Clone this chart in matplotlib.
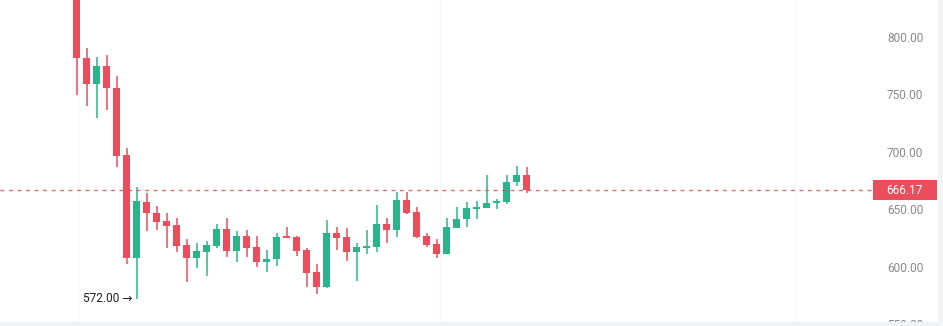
import matplotlib
matplotlib.use("Agg")
import matplotlib.pyplot as plt
from matplotlib.patches import Rectangle
from matplotlib.lines import Line2D
import numpy as np

opens = [845.0, 781.0, 758.4, 774.3, 755.5, 697.0, 607.7, 656.3, 646.8, 639.6,
         636.1, 618.7, 607.1, 612.9, 618.1, 632.6, 613.7, 626.5, 617.0, 603.6,
         606.3, 626.5, 625.9, 614.3, 595.2, 582.4, 629.4, 625.4, 612.9, 616.4,
         617.2, 637.0, 631.7, 657.8, 647.4, 626.5, 619.6, 610.6, 633.8, 641.0,
         650.3, 651.1, 655.0, 656.3, 673.2, 679.6]
highs = [855.0, 789.7, 781.9, 783.9, 765.7, 702.8, 668.9, 663.7, 652.9, 646.3,
         641.9, 623.6, 620.2, 622.4, 637.0, 642.2, 630.9, 631.7, 626.5, 614.3,
         629.4, 634.6, 626.5, 615.8, 602.2, 640.4, 634.1, 633.8, 620.7, 631.7,
         653.5, 642.4, 665.0, 665.0, 651.5, 629.4, 623.6, 642.4, 652.0, 656.3,
         657.2, 679.6, 658.4, 679.6, 687.7, 686.3]
lows = [749.1, 739.6, 728.9, 736.1, 686.8, 601.9, 572.0, 630.9, 631.7, 615.8,
        612.9, 586.8, 599.0, 591.7, 615.8, 608.0, 603.6, 608.5, 599.8, 595.0,
        600.7, 624.5, 609.4, 582.4, 576.1, 581.0, 614.3, 604.8, 587.7, 610.9,
        612.9, 620.2, 625.4, 645.7, 624.5, 617.2, 607.1, 610.6, 633.8, 634.1,
        641.3, 650.6, 649.7, 654.3, 670.0, 664.2]
closes = [781.0, 758.4, 774.3, 755.0, 696.3, 607.7, 657.0, 646.3, 639.0, 635.5,
          618.1, 607.1, 613.5, 618.7, 632.6, 613.7, 626.5, 616.4, 603.6, 606.5,
          625.4, 624.8, 613.7, 594.6, 582.4, 629.4, 625.0, 612.9, 617.0, 617.8,
          637.0, 631.7, 657.8, 646.8, 625.9, 618.7, 610.6, 634.1, 641.3, 650.6,
          651.5, 655.0, 657.0, 673.2, 679.6, 666.17]
y_ticks = [550, 600, 650, 700, 750, 800]
last_price = 666.17
min_low_label = "572.00"

W, H = 943, 326
UP = "#2bb48c"
DOWN = "#ea4d5b"

fig = plt.figure(figsize=(W / 100, H / 100), dpi=100)
fig.patch.set_facecolor("white")
plot_right = 860
ax = fig.add_axes([0, 0, plot_right / W, 1])
ax.set_facecolor("white")

ppu = 1.15
ytop = 800 + 36.5 / ppu
ybot = 800 - (H - 36.5) / ppu
ax.set_ylim(ybot, ytop)
x0 = 76.7
step = 10.0
ax.set_xlim(-x0 / step, (plot_right - x0) / step)

n = len(opens)
xs = np.arange(n)
o = np.array(opens); c = np.array(closes); h = np.array(highs); l = np.array(lows)
up = c >= o
colors = np.where(up, UP, DOWN)

for gx in [78, 440, 795]:
    ax.axvline((gx - x0) / step, color="#f7f7f8", lw=1, zorder=0)

ax.vlines(xs, l, h, colors=colors, lw=1.1, zorder=2)
bottoms = np.minimum(o, c)
heights = np.maximum(np.abs(c - o), 1.0 / ppu)
ax.bar(xs, heights, bottom=bottoms, width=0.7, color=colors, zorder=3, linewidth=0)

ty = H - (36.5 + (800 - last_price) * ppu)
fig.lines.append(Line2D([0, 873 / W], [ty / H, ty / H], transform=fig.transFigure,
                        color=DOWN, lw=0.9, ls=(0, (3.2, 3.6)), alpha=0.9, zorder=1))

imin = int(np.argmin(l))
ax.annotate(min_low_label + " \u2192", xy=(imin, l[imin]), xytext=(-4, 0),
            textcoords="offset pixels", ha="right", va="center",
            fontsize=8.6, color="#222222", family=["Roboto", "DejaVu Sans"])

for s in ax.spines.values():
    s.set_visible(False)
ax.set_xticks([])
ax.yaxis.tick_right()
ax.set_yticks(y_ticks)
ax.set_yticklabels([f"{v:.2f}" for v in y_ticks])
ax.tick_params(axis="y", length=0, pad=19.4, labelsize=8.6, labelcolor="#8a8a8a")
for t in ax.get_yticklabels():
    t.set_family("Roboto")

fig.patches.append(Rectangle((873 / W, (ty - 10) / H), 64 / W, 20 / H,
                             transform=fig.transFigure, facecolor=DOWN,
                             edgecolor="none", zorder=5))
fig.text(886.5 / W, ty / H, f"{last_price:.2f}", color="white", fontsize=8.6,
         family="Roboto", ha="left", va="center", zorder=6)

fig.patches.append(Rectangle((0, 0), 1, 4 / H, transform=fig.transFigure,
                             facecolor="#f0f3f5", edgecolor="none", zorder=4))
fig.patches.append(Rectangle((938 / W, 0), 5 / W, 1, transform=fig.transFigure,
                             facecolor="#f2f4f6", edgecolor="none", zorder=4))

fig.savefig("out.png", dpi=100)
